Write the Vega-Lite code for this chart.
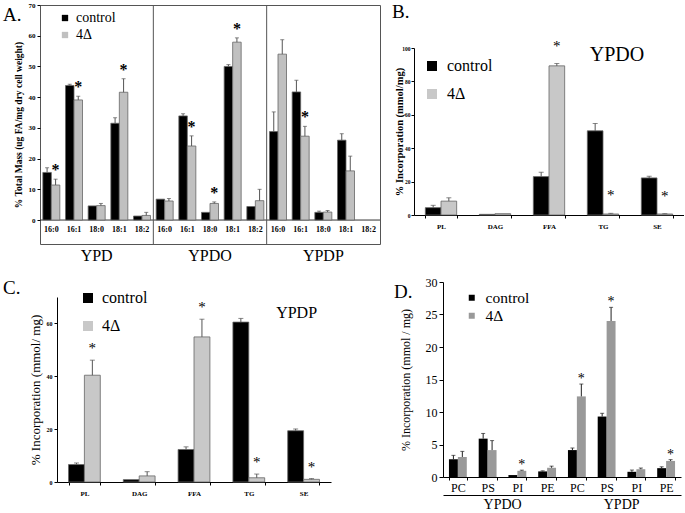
{
  "$schema": "https://vega.github.io/schema/vega-lite/v6.json",
  "padding": {"left": 2, "top": 0, "right": 0, "bottom": 0},
  "background": "white",
  "config": {
    "view": {"stroke": null},
    "font": "Liberation Serif",
    "axis": {"grid": false, "labelFont": "Liberation Serif", "titleFont": "Liberation Serif", "domainColor": "#000", "tickColor": "#000", "labelColor": "#000", "titleColor": "#000", "labelOverlap": false},
    "legend": {"labelFont": "Liberation Serif", "labelColor": "#000"},
    "title": {"font": "Liberation Serif", "fontWeight": "normal", "color": "#000", "anchor": "start", "frame": "group", "baseline": "top", "fontSize": 19}
  },
  "datasets": {
    "A": [
      {"k": "YPD|16:0", "s": "control", "v": 15.5, "hi": 17.0, "st": ""},
      {"k": "YPD|16:0", "s": "4Δ", "v": 11.4, "hi": 13.3, "st": "*"},
      {"k": "YPD|16:1", "s": "control", "v": 43.8, "hi": 44.2, "st": ""},
      {"k": "YPD|16:1", "s": "4Δ", "v": 39.1, "hi": 40.3, "st": "*"},
      {"k": "YPD|18:0", "s": "control", "v": 4.6, "hi": null, "st": ""},
      {"k": "YPD|18:0", "s": "4Δ", "v": 4.7, "hi": 5.4, "st": ""},
      {"k": "YPD|18:1", "s": "control", "v": 31.5, "hi": 33.3, "st": ""},
      {"k": "YPD|18:1", "s": "4Δ", "v": 41.6, "hi": 46.0, "st": "*"},
      {"k": "YPD|18:2", "s": "control", "v": 1.3, "hi": null, "st": ""},
      {"k": "YPD|18:2", "s": "4Δ", "v": 1.5, "hi": 2.5, "st": ""},
      {"k": "YPDO|16:0", "s": "control", "v": 6.8, "hi": null, "st": ""},
      {"k": "YPDO|16:0", "s": "4Δ", "v": 6.2, "hi": 7.0, "st": ""},
      {"k": "YPDO|16:1", "s": "control", "v": 33.9, "hi": 34.6, "st": ""},
      {"k": "YPDO|16:1", "s": "4Δ", "v": 24.1, "hi": 27.4, "st": "*"},
      {"k": "YPDO|18:0", "s": "control", "v": 2.5, "hi": null, "st": ""},
      {"k": "YPDO|18:0", "s": "4Δ", "v": 5.4, "hi": 5.9, "st": "*"},
      {"k": "YPDO|18:1", "s": "control", "v": 50.0, "hi": 50.6, "st": ""},
      {"k": "YPDO|18:1", "s": "4Δ", "v": 57.9, "hi": 59.3, "st": "*"},
      {"k": "YPDO|18:2", "s": "control", "v": 4.4, "hi": null, "st": ""},
      {"k": "YPDO|18:2", "s": "4Δ", "v": 6.3, "hi": 10.0, "st": ""},
      {"k": "YPDP|16:0", "s": "control", "v": 28.8, "hi": 35.2, "st": ""},
      {"k": "YPDP|16:0", "s": "4Δ", "v": 54.0, "hi": 58.7, "st": ""},
      {"k": "YPDP|16:1", "s": "control", "v": 41.7, "hi": 45.5, "st": ""},
      {"k": "YPDP|16:1", "s": "4Δ", "v": 27.3, "hi": 30.5, "st": "*"},
      {"k": "YPDP|18:0", "s": "control", "v": 2.5, "hi": 2.9, "st": ""},
      {"k": "YPDP|18:0", "s": "4Δ", "v": 2.6, "hi": 3.1, "st": ""},
      {"k": "YPDP|18:1", "s": "control", "v": 26.0, "hi": 28.1, "st": ""},
      {"k": "YPDP|18:1", "s": "4Δ", "v": 16.0, "hi": 20.8, "st": ""}
    ],
    "B": [
      {"c": "PL", "s": "control", "v": 4.4, "hi": 5.8, "st": ""},
      {"c": "PL", "s": "4Δ", "v": 8.3, "hi": 10.3, "st": ""},
      {"c": "DAG", "s": "control", "v": 0.4, "hi": null, "st": ""},
      {"c": "DAG", "s": "4Δ", "v": 0.8, "hi": null, "st": ""},
      {"c": "FFA", "s": "control", "v": 23.0, "hi": 25.6, "st": ""},
      {"c": "FFA", "s": "4Δ", "v": 89.3, "hi": 90.7, "st": "*"},
      {"c": "TG", "s": "control", "v": 50.4, "hi": 54.8, "st": ""},
      {"c": "TG", "s": "4Δ", "v": 0.6, "hi": 1.0, "st": "*"},
      {"c": "SE", "s": "control", "v": 22.2, "hi": 23.2, "st": ""},
      {"c": "SE", "s": "4Δ", "v": 0.6, "hi": 0.8, "st": "*"}
    ],
    "C": [
      {"c": "PL", "s": "control", "v": 6.6, "hi": 7.2, "st": ""},
      {"c": "PL", "s": "4Δ", "v": 40.4, "hi": 46.1, "st": "*"},
      {"c": "DAG", "s": "control", "v": 0.9, "hi": null, "st": ""},
      {"c": "DAG", "s": "4Δ", "v": 2.3, "hi": 3.9, "st": ""},
      {"c": "FFA", "s": "control", "v": 12.3, "hi": 13.3, "st": ""},
      {"c": "FFA", "s": "4Δ", "v": 54.9, "hi": 61.6, "st": "*"},
      {"c": "TG", "s": "control", "v": 60.5, "hi": 61.9, "st": ""},
      {"c": "TG", "s": "4Δ", "v": 1.6, "hi": 3.0, "st": "*"},
      {"c": "SE", "s": "control", "v": 19.4, "hi": 20.1, "st": ""},
      {"c": "SE", "s": "4Δ", "v": 1.0, "hi": 1.3, "st": "*"}
    ],
    "D": [
      {"k": "YPDO|PC", "s": "control", "v": 2.73, "hi": 3.33, "st": ""},
      {"k": "YPDO|PC", "s": "4Δ", "v": 3.08, "hi": 3.94, "st": ""},
      {"k": "YPDO|PS", "s": "control", "v": 5.9, "hi": 6.7, "st": ""},
      {"k": "YPDO|PS", "s": "4Δ", "v": 4.14, "hi": 5.6, "st": ""},
      {"k": "YPDO|PI", "s": "control", "v": 0.3, "hi": null, "st": ""},
      {"k": "YPDO|PI", "s": "4Δ", "v": 0.95, "hi": 1.05, "st": "*"},
      {"k": "YPDO|PE", "s": "control", "v": 0.86, "hi": 0.95, "st": ""},
      {"k": "YPDO|PE", "s": "4Δ", "v": 1.42, "hi": 1.67, "st": ""},
      {"k": "YPDP|PC", "s": "control", "v": 4.14, "hi": 4.45, "st": ""},
      {"k": "YPDP|PC", "s": "4Δ", "v": 12.4, "hi": 14.3, "st": "*"},
      {"k": "YPDP|PS", "s": "control", "v": 9.3, "hi": 9.8, "st": ""},
      {"k": "YPDP|PS", "s": "4Δ", "v": 24.0, "hi": 26.1, "st": "*"},
      {"k": "YPDP|PI", "s": "control", "v": 0.8, "hi": 1.07, "st": ""},
      {"k": "YPDP|PI", "s": "4Δ", "v": 1.2, "hi": 1.38, "st": ""},
      {"k": "YPDP|PE", "s": "control", "v": 1.36, "hi": 1.57, "st": ""},
      {"k": "YPDP|PE", "s": "4Δ", "v": 2.47, "hi": 2.67, "st": "*"}
    ]
  },
  "resolve": {"scale": {"color": "independent", "x": "independent", "y": "independent", "xOffset": "independent"}, "legend": {"color": "independent"}},
  "spacing": 12,
  "vconcat": [
    {
      "spacing": 11,
      "resolve": {"scale": {"color": "independent", "x": "independent", "y": "independent", "xOffset": "independent"}, "legend": {"color": "independent"}},
      "hconcat": [
        {
          "title": {"text": "A.", "dx": -37, "offset": -24},
          "width": 340,
          "height": 239,
          "view": {"stroke": "#555", "strokeWidth": 1},
          "data": {"name": "A"},
          "resolve": {"axis": {"x": "independent"}},
          "layer": [
            {
              "data": {"values": [{}]},
              "mark": {"type": "rule", "color": "#333"},
              "encoding": {"y": {"datum": 0, "type": "quantitative", "axis": {"title": "% Total Mass (ug FA/mg dry cell weight)", "values": [0, 10, 20, 30, 40, 50, 60, 70], "labelOverlap": false, "domain": false, "tickSize": 3, "labelFontSize": 7, "labelFontWeight": "bold", "labelPadding": 2, "titleFontSize": 9.5, "titleFontWeight": "bold", "titlePadding": 5}}}
            },
            {
              "data": {"values": [{}]},
              "mark": {"type": "rule", "color": "#555"},
              "encoding": {"x": {"datum": "YPDO|16:0", "bandPosition": -0.1667, "axis": null}}
            },
            {
              "data": {"values": [{}]},
              "mark": {"type": "rule", "color": "#555"},
              "encoding": {"x": {"datum": "YPDP|16:0", "bandPosition": -0.1667, "axis": null}}
            },
            {
              "mark": {"type": "bar", "stroke": "#666", "strokeWidth": 0.8},
              "encoding": {
                "x": {"field": "k", "type": "nominal", "sort": null, "scale": {"domain": ["YPD|16:0", "YPD|16:1", "YPD|18:0", "YPD|18:1", "YPD|18:2", "YPDO|16:0", "YPDO|16:1", "YPDO|18:0", "YPDO|18:1", "YPDO|18:2", "YPDP|16:0", "YPDP|16:1", "YPDP|18:0", "YPDP|18:1", "YPDP|18:2"], "paddingInner": 0.25, "paddingOuter": 0.125}, "axis": {"title": null, "orient": "bottom", "labelAngle": 0, "domain": false, "ticks": false, "tickSize": 0, "labelPadding": -19, "labelFontSize": 8, "labelFontWeight": "bold", "labelExpr": "split(datum.value, '|')[1]"}},
                "xOffset": {"field": "s", "type": "nominal", "sort": ["control", "4Δ"], "scale": {"paddingInner": 0, "paddingOuter": 0}},
                "y": {"field": "v", "type": "quantitative", "scale": {"domain": [-7.8, 70], "nice": false, "zero": false}, "axis": {"title": "% Total Mass (ug FA/mg dry cell weight)", "values": [0, 10, 20, 30, 40, 50, 60, 70], "labelOverlap": false, "domain": false, "tickSize": 3, "labelFontSize": 7, "labelFontWeight": "bold", "labelPadding": 2, "titleFontSize": 9.5, "titleFontWeight": "bold", "titlePadding": 5}},
                "y2": {"datum": 0},
                "color": {"field": "s", "type": "nominal", "scale": {"domain": ["control", "4Δ"], "range": ["#000000", "#c0c0c0"]}, "legend": {"orient": "none", "legendX": 18, "legendY": 6, "title": null, "symbolType": "square", "symbolSize": 40, "symbolStrokeWidth": 0, "labelFont": "Liberation Serif", "labelFontSize": 14, "rowPadding": 3, "padding": 0}}
              }
            },
            {
              "transform": [{"filter": "datum.hi != null"}],
              "mark": {"type": "rule", "color": "#555", "strokeWidth": 1},
              "encoding": {
                "x": {"field": "k", "type": "nominal", "sort": null, "axis": {"title": null, "orient": "bottom", "domain": false, "ticks": false, "labelAngle": 0, "labelPadding": 3, "labelFontSize": 16, "labelExpr": "indexof(datum.value, '18:0') >= 0 ? split(datum.value, '|')[0] : ''"}},
                "xOffset": {"field": "s", "type": "nominal", "sort": ["control", "4Δ"]},
                "y": {"field": "v", "type": "quantitative", "axis": {"title": "% Total Mass (ug FA/mg dry cell weight)", "values": [0, 10, 20, 30, 40, 50, 60, 70], "labelOverlap": false, "domain": false, "tickSize": 3, "labelFontSize": 7, "labelFontWeight": "bold", "labelPadding": 2, "titleFontSize": 9.5, "titleFontWeight": "bold", "titlePadding": 5}},
                "y2": {"field": "hi"}
              }
            },
            {
              "transform": [{"filter": "datum.hi != null"}],
              "mark": {"type": "tick", "color": "#555", "thickness": 1, "size": 4},
              "encoding": {
                "x": {"field": "k", "type": "nominal", "sort": null, "axis": null},
                "xOffset": {"field": "s", "type": "nominal", "sort": ["control", "4Δ"]},
                "y": {"field": "hi", "type": "quantitative", "axis": {"title": "% Total Mass (ug FA/mg dry cell weight)", "values": [0, 10, 20, 30, 40, 50, 60, 70], "labelOverlap": false, "domain": false, "tickSize": 3, "labelFontSize": 7, "labelFontWeight": "bold", "labelPadding": 2, "titleFontSize": 9.5, "titleFontWeight": "bold", "titlePadding": 5}}
              }
            },
            {
              "transform": [{"filter": "datum.hi != null"}],
              "mark": {"type": "text", "fontSize": 16, "fontWeight": "bold", "baseline": "middle", "dy": -9, "font": "Liberation Serif", "color": "#000"},
              "encoding": {
                "x": {"field": "k", "type": "nominal", "sort": null, "axis": null},
                "xOffset": {"field": "s", "type": "nominal", "sort": ["control", "4Δ"]},
                "y": {"field": "hi", "type": "quantitative", "axis": {"title": "% Total Mass (ug FA/mg dry cell weight)", "values": [0, 10, 20, 30, 40, 50, 60, 70], "labelOverlap": false, "domain": false, "tickSize": 3, "labelFontSize": 7, "labelFontWeight": "bold", "labelPadding": 2, "titleFontSize": 9.5, "titleFontWeight": "bold", "titlePadding": 5}},
                "text": {"field": "st"}
              }
            }
          ]
        },
        {
          "title": {"text": "B.", "dx": -22, "offset": -17},
          "width": 270,
          "height": 210,
          "data": {"name": "B"},
          "layer": [
            {
              "mark": {"type": "bar", "stroke": "#666", "strokeWidth": 0.8},
              "encoding": {
                "x": {"field": "c", "type": "nominal", "sort": ["PL", "DAG", "FFA", "TG", "SE"], "scale": {"paddingInner": 0.42, "paddingOuter": 0.21}, "axis": {"title": null, "labelAngle": 0, "tickBand": "extent", "tickSize": 3, "labelPadding": 4, "labelFontSize": 7, "labelFontWeight": "bold"}},
                "xOffset": {"field": "s", "type": "nominal", "sort": ["control", "4Δ"], "scale": {"paddingInner": 0, "paddingOuter": 0}},
                "y": {"field": "v", "type": "quantitative", "scale": {"domain": [0, 100], "nice": false, "range": [210, 43]}, "axis": {"title": "% Incorporation (mmol/mg)", "values": [0, 10, 20, 30, 40, 50, 60, 70, 80, 90, 100], "labelOverlap": false, "tickSize": 3, "labelFontSize": 5.5, "labelFontWeight": "bold", "labelPadding": 1, "titleFontSize": 10.5, "titleFontWeight": "bold", "titlePadding": -3}},
                "color": {"field": "s", "type": "nominal", "scale": {"domain": ["control", "4Δ"], "range": ["#000000", "#c8c8c8"]}, "legend": {"orient": "none", "legendX": 10, "legendY": 53, "title": null, "symbolType": "square", "symbolSize": 100, "symbolStrokeWidth": 0, "labelFont": "Liberation Serif", "labelFontSize": 16, "labelOffset": 7, "rowPadding": 12, "padding": 0}}
              }
            },
            {
              "transform": [{"filter": "datum.hi != null"}],
              "mark": {"type": "rule", "color": "#555", "strokeWidth": 1},
              "encoding": {
                "x": {"field": "c", "type": "nominal", "sort": ["PL", "DAG", "FFA", "TG", "SE"], "axis": {"title": null, "labelAngle": 0, "tickBand": "extent", "tickSize": 3, "labelPadding": 4, "labelFontSize": 7, "labelFontWeight": "bold"}},
                "xOffset": {"field": "s", "type": "nominal", "sort": ["control", "4Δ"]},
                "y": {"field": "v", "type": "quantitative", "axis": {"title": "% Incorporation (mmol/mg)", "values": [0, 10, 20, 30, 40, 50, 60, 70, 80, 90, 100], "labelOverlap": false, "tickSize": 3, "labelFontSize": 5.5, "labelFontWeight": "bold", "labelPadding": 1, "titleFontSize": 10.5, "titleFontWeight": "bold", "titlePadding": -3}},
                "y2": {"field": "hi"}
              }
            },
            {
              "transform": [{"filter": "datum.hi != null"}],
              "mark": {"type": "tick", "color": "#555", "thickness": 1, "size": 5},
              "encoding": {
                "x": {"field": "c", "type": "nominal", "sort": ["PL", "DAG", "FFA", "TG", "SE"], "axis": {"title": null, "labelAngle": 0, "tickBand": "extent", "tickSize": 3, "labelPadding": 4, "labelFontSize": 7, "labelFontWeight": "bold"}},
                "xOffset": {"field": "s", "type": "nominal", "sort": ["control", "4Δ"]},
                "y": {"field": "hi", "type": "quantitative", "axis": {"title": "% Incorporation (mmol/mg)", "values": [0, 10, 20, 30, 40, 50, 60, 70, 80, 90, 100], "labelOverlap": false, "tickSize": 3, "labelFontSize": 5.5, "labelFontWeight": "bold", "labelPadding": 1, "titleFontSize": 10.5, "titleFontWeight": "bold", "titlePadding": -3}}
              }
            },
            {
              "transform": [{"filter": "datum.hi != null"}],
              "mark": {"type": "text", "fontSize": 15, "baseline": "middle", "dy": -18, "font": "Liberation Serif", "color": "#000"},
              "encoding": {
                "x": {"field": "c", "type": "nominal", "sort": ["PL", "DAG", "FFA", "TG", "SE"], "axis": {"title": null, "labelAngle": 0, "tickBand": "extent", "tickSize": 3, "labelPadding": 4, "labelFontSize": 7, "labelFontWeight": "bold"}},
                "xOffset": {"field": "s", "type": "nominal", "sort": ["control", "4Δ"]},
                "y": {"field": "hi", "type": "quantitative", "axis": {"title": "% Incorporation (mmol/mg)", "values": [0, 10, 20, 30, 40, 50, 60, 70, 80, 90, 100], "labelOverlap": false, "tickSize": 3, "labelFontSize": 5.5, "labelFontWeight": "bold", "labelPadding": 1, "titleFontSize": 10.5, "titleFontWeight": "bold", "titlePadding": -3}},
                "text": {"field": "st"}
              }
            },
            {
              "data": {"values": [{"label": "YPDO"}]},
              "mark": {"type": "text", "fontSize": 20, "baseline": "middle", "dx": 14, "font": "Liberation Serif", "color": "#000"},
              "encoding": {
                "x": {"datum": "TG"},
                "y": {"datum": 96},
                "text": {"field": "label"}
              }
            }
          ]
        }
      ]
    },
    {
      "spacing": 63,
      "resolve": {"scale": {"color": "independent", "x": "independent", "y": "independent", "xOffset": "independent"}, "legend": {"color": "independent"}},
      "hconcat": [
        {
          "title": {"text": "C.", "dx": -37, "offset": -16},
          "width": 291,
          "height": 200,
          "data": {"name": "C"},
          "layer": [
            {
              "mark": {"type": "bar", "stroke": "#666", "strokeWidth": 0.8},
              "encoding": {
                "x": {"field": "c", "type": "nominal", "sort": ["PL", "DAG", "FFA", "TG", "SE"], "scale": {"paddingInner": 0.42, "paddingOuter": 0.21, "range": [17, 291]}, "axis": {"title": null, "labelAngle": 0, "tickBand": "extent", "tickSize": 3, "labelPadding": 4, "labelFontSize": 7, "labelFontWeight": "bold"}},
                "xOffset": {"field": "s", "type": "nominal", "sort": ["control", "4Δ"], "scale": {"paddingInner": 0, "paddingOuter": 0}},
                "y": {"field": "v", "type": "quantitative", "scale": {"domain": [0, 70], "nice": false, "range": [200, 15]}, "axis": {"title": "% Incorporation (mmol/ mg)", "offset": -17, "values": [0, 10, 20, 30, 40, 50, 60, 70], "labelOverlap": false, "tickSize": 3, "labelFontSize": 6, "labelFontWeight": "bold", "labelPadding": 2, "titleFontSize": 13, "titleFontWeight": "normal", "titlePadding": 4}},
                "color": {"field": "s", "type": "nominal", "scale": {"domain": ["control", "4Δ"], "range": ["#000000", "#c8c8c8"]}, "legend": {"orient": "none", "legendX": 40, "legendY": 8, "title": null, "symbolType": "square", "symbolSize": 100, "symbolStrokeWidth": 0, "labelFont": "Liberation Serif", "labelFontSize": 16, "labelOffset": 6, "rowPadding": 12, "padding": 0}}
              }
            },
            {
              "transform": [{"filter": "datum.hi != null"}],
              "mark": {"type": "rule", "color": "#555", "strokeWidth": 1},
              "encoding": {
                "x": {"field": "c", "type": "nominal", "sort": ["PL", "DAG", "FFA", "TG", "SE"], "axis": {"title": null, "labelAngle": 0, "tickBand": "extent", "tickSize": 3, "labelPadding": 4, "labelFontSize": 7, "labelFontWeight": "bold"}},
                "xOffset": {"field": "s", "type": "nominal", "sort": ["control", "4Δ"]},
                "y": {"field": "v", "type": "quantitative", "axis": {"title": "% Incorporation (mmol/ mg)", "offset": -17, "values": [0, 10, 20, 30, 40, 50, 60, 70], "labelOverlap": false, "tickSize": 3, "labelFontSize": 6, "labelFontWeight": "bold", "labelPadding": 2, "titleFontSize": 13, "titleFontWeight": "normal", "titlePadding": 4}},
                "y2": {"field": "hi"}
              }
            },
            {
              "transform": [{"filter": "datum.hi != null"}],
              "mark": {"type": "tick", "color": "#555", "thickness": 1, "size": 5},
              "encoding": {
                "x": {"field": "c", "type": "nominal", "sort": ["PL", "DAG", "FFA", "TG", "SE"], "axis": {"title": null, "labelAngle": 0, "tickBand": "extent", "tickSize": 3, "labelPadding": 4, "labelFontSize": 7, "labelFontWeight": "bold"}},
                "xOffset": {"field": "s", "type": "nominal", "sort": ["control", "4Δ"]},
                "y": {"field": "hi", "type": "quantitative", "axis": {"title": "% Incorporation (mmol/ mg)", "offset": -17, "values": [0, 10, 20, 30, 40, 50, 60, 70], "labelOverlap": false, "tickSize": 3, "labelFontSize": 6, "labelFontWeight": "bold", "labelPadding": 2, "titleFontSize": 13, "titleFontWeight": "normal", "titlePadding": 4}}
              }
            },
            {
              "transform": [{"filter": "datum.hi != null"}],
              "mark": {"type": "text", "fontSize": 15, "baseline": "middle", "dy": -12, "font": "Liberation Serif", "color": "#000"},
              "encoding": {
                "x": {"field": "c", "type": "nominal", "sort": ["PL", "DAG", "FFA", "TG", "SE"], "axis": {"title": null, "labelAngle": 0, "tickBand": "extent", "tickSize": 3, "labelPadding": 4, "labelFontSize": 7, "labelFontWeight": "bold"}},
                "xOffset": {"field": "s", "type": "nominal", "sort": ["control", "4Δ"]},
                "y": {"field": "hi", "type": "quantitative", "axis": {"title": "% Incorporation (mmol/ mg)", "offset": -17, "values": [0, 10, 20, 30, 40, 50, 60, 70], "labelOverlap": false, "tickSize": 3, "labelFontSize": 6, "labelFontWeight": "bold", "labelPadding": 2, "titleFontSize": 13, "titleFontWeight": "normal", "titlePadding": 4}},
                "text": {"field": "st"}
              }
            },
            {
              "data": {"values": [{"label": "YPDP"}]},
              "mark": {"type": "text", "fontSize": 16, "baseline": "middle", "dx": -7, "font": "Liberation Serif", "color": "#000"},
              "encoding": {
                "x": {"datum": "SE"},
                "y": {"datum": 64},
                "text": {"field": "label"}
              }
            }
          ]
        },
        {
          "title": {"text": "D.", "dx": -49, "offset": -26},
          "width": 238,
          "height": 195,
          "data": {"name": "D"},
          "resolve": {"axis": {"x": "independent"}},
          "layer": [
            {
              "mark": {"type": "bar"},
              "encoding": {
                "x": {"field": "k", "type": "nominal", "sort": null, "scale": {"domain": ["YPDO|PC", "YPDO|PS", "YPDO|PI", "YPDO|PE", "YPDP|PC", "YPDP|PS", "YPDP|PI", "YPDP|PE"], "paddingInner": 0.4, "paddingOuter": 0.2}, "axis": {"title": null, "orient": "bottom", "labelAngle": 0, "tickBand": "extent", "tickSize": 3, "labelPadding": 2, "labelFontSize": 12, "labelExpr": "split(datum.value, '|')[1]"}},
                "xOffset": {"field": "s", "type": "nominal", "sort": ["control", "4Δ"], "scale": {"paddingInner": 0, "paddingOuter": 0}},
                "y": {"field": "v", "type": "quantitative", "scale": {"domain": [0, 30], "nice": false}, "axis": {"title": "% Incorporation (mmol / mg)", "values": [0, 5, 10, 15, 20, 25, 30], "labelOverlap": false, "tickSize": 4, "labelFontSize": 12, "labelPadding": 2, "titleFontSize": 12, "titleFontWeight": "normal", "titlePadding": 13}},
                "color": {"field": "s", "type": "nominal", "scale": {"domain": ["control", "4Δ"], "range": ["#000000", "#999999"]}, "legend": {"orient": "none", "legendX": 21, "legendY": 8, "title": null, "symbolType": "square", "symbolSize": 36, "symbolStrokeWidth": 0, "labelFont": "Liberation Serif", "labelFontSize": 15.5, "labelOffset": 6, "rowPadding": 1, "padding": 0}}
              }
            },
            {
              "transform": [{"filter": "datum.hi != null"}],
              "mark": {"type": "rule", "color": "#222", "strokeWidth": 1},
              "encoding": {
                "x": {"field": "k", "type": "nominal", "sort": null, "axis": {"title": null, "orient": "bottom", "offset": 18, "domain": true, "ticks": false, "labelAngle": 0, "labelPadding": 2, "labelOffset": 15, "labelFontSize": 14, "labelExpr": "indexof(datum.value, 'PS') >= 0 ? split(datum.value, '|')[0] : ''"}},
                "xOffset": {"field": "s", "type": "nominal", "sort": ["control", "4Δ"]},
                "y": {"field": "v", "type": "quantitative", "axis": {"title": "% Incorporation (mmol / mg)", "values": [0, 5, 10, 15, 20, 25, 30], "labelOverlap": false, "tickSize": 4, "labelFontSize": 12, "labelPadding": 2, "titleFontSize": 12, "titleFontWeight": "normal", "titlePadding": 13}},
                "y2": {"field": "hi"}
              }
            },
            {
              "transform": [{"filter": "datum.hi != null"}],
              "mark": {"type": "tick", "color": "#222", "thickness": 1, "size": 4},
              "encoding": {
                "x": {"field": "k", "type": "nominal", "sort": null, "axis": null},
                "xOffset": {"field": "s", "type": "nominal", "sort": ["control", "4Δ"]},
                "y": {"field": "hi", "type": "quantitative", "axis": {"title": "% Incorporation (mmol / mg)", "values": [0, 5, 10, 15, 20, 25, 30], "labelOverlap": false, "tickSize": 4, "labelFontSize": 12, "labelPadding": 2, "titleFontSize": 12, "titleFontWeight": "normal", "titlePadding": 13}}
              }
            },
            {
              "transform": [{"filter": "datum.hi != null"}],
              "mark": {"type": "text", "fontSize": 14, "baseline": "middle", "dy": -5, "font": "Liberation Serif", "color": "#000"},
              "encoding": {
                "x": {"field": "k", "type": "nominal", "sort": null, "axis": null},
                "xOffset": {"field": "s", "type": "nominal", "sort": ["control", "4Δ"]},
                "y": {"field": "hi", "type": "quantitative", "axis": {"title": "% Incorporation (mmol / mg)", "values": [0, 5, 10, 15, 20, 25, 30], "labelOverlap": false, "tickSize": 4, "labelFontSize": 12, "labelPadding": 2, "titleFontSize": 12, "titleFontWeight": "normal", "titlePadding": 13}},
                "text": {"field": "st"}
              }
            }
          ]
        }
      ]
    }
  ]
}
